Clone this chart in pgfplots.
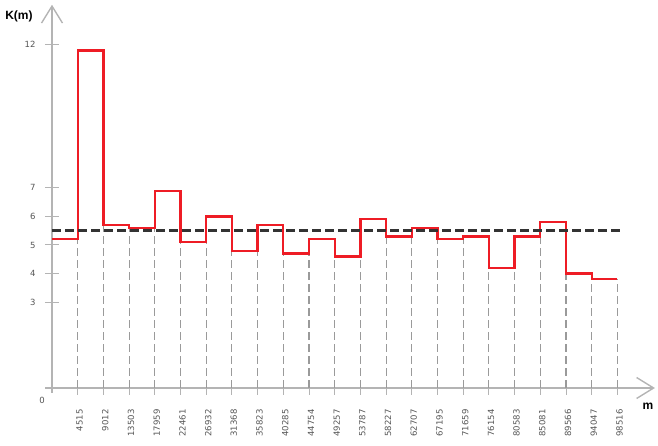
\documentclass[border=0pt]{standalone}
\usepackage{fontspec}
\setmainfont{Liberation Sans}
\newfontfamily\tickfont{DejaVu Sans}
\usepackage{pgfplots}
\pgfplotsset{compat=1.18}
\usetikzlibrary{arrows.meta, calc}
\definecolor{stepred}{HTML}{EE1C25}
\definecolor{axgray}{HTML}{B4B4B4}
\definecolor{gridgray}{HTML}{9A9A9A}
\definecolor{meanline}{HTML}{333333}
\definecolor{labgray}{HTML}{555555}

\begin{document}
\begin{tikzpicture}
\begin{axis}[
    x=25.7pt, y=28.6pt,
    xmin=-0.27, xmax=23.46,
    ymin=-0.17, ymax=13.4,
    axis lines=middle,
    enlargelimits=false,
    clip=false,
    axis line style={axgray, line width=1.4pt, -{Straight Barb[length=17pt, width=21pt, line width=1.4pt]}},
    xtick={1,...,22},
    xticklabels={4515,9012,13503,17959,22461,26932,31368,35823,40285,44754,49257,
                 53787,58227,62707,67195,71659,76154,80583,85081,89566,94047,98516},
    ytick={3,4,5,6,7,12},
    tick align=center,
    major tick length=14pt,
    tick style={axgray, line width=1pt},
    /pgf/number format/assume math mode=true,
    ticklabel style={font=\tickfont\fontsize{8.5}{9}\selectfont, text=labgray},
    xticklabel style={rotate=90, anchor=east, xshift=-11pt, yshift=-2pt},
    yticklabel style={xshift=-6pt},
]
% dashed drop lines from the step curve to the m axis
\addplot[ycomb, gridgray, line width=1.1pt, dash pattern=on 8pt off 4pt] coordinates {
    (1,5.2) (2,5.7) (3,5.6) (4,5.6) (5,5.1) (6,5.1) (7,4.8) (8,4.8) (9,4.7) (10,4.7) (11,4.6)
    (12,4.6) (13,5.3) (14,5.3) (15,5.2) (16,5.2) (17,4.2) (18,4.2) (19,5.3) (20,4.0) (21,3.8) (22,3.8)
};
% K(m) step curve
\addplot[const plot, stepred, line width=2.3pt] coordinates {
    (0,5.2) (1,11.8) (2,5.7) (3,5.6) (4,6.9) (5,5.1) (6,6.0) (7,4.8) (8,5.7) (9,4.7) (10,5.2)
    (11,4.6) (12,5.9) (13,5.3) (14,5.6) (15,5.2) (16,5.3) (17,4.2) (18,5.3) (19,5.8) (20,4.0)
    (21,3.8) (22,3.8)
};
% mean level
\addplot[meanline, line width=2.8pt, dash pattern=on 9pt off 4pt] coordinates {(0,5.5) (22.2,5.5)};
\coordinate (O) at (axis cs:0,0);
\end{axis}
\node[font=\bfseries\fontsize{12}{12}\selectfont] at ($(O)+(-33pt,372pt)$) {K(m)};
\node[font=\bfseries\fontsize{12}{12}\selectfont] at ($(O)+(596pt,-18pt)$) {m};
\node[font=\tickfont\fontsize{8.5}{9}\selectfont, text=labgray] at ($(O)+(-10pt,-12pt)$) {0};
\pgfresetboundingbox
\path[use as bounding box] ($(O)+(-52pt,-58pt)$) rectangle ($(O)+(606pt,388pt)$);
\end{tikzpicture}
\end{document}
